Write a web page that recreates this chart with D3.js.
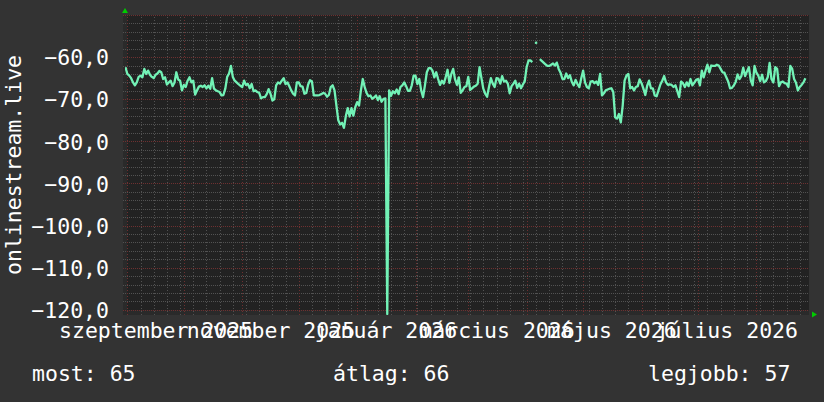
<!DOCTYPE html>
<html><head><meta charset="utf-8">
<script src="https://cdn.jsdelivr.net/npm/d3@7"></script>
<style>html,body{margin:0;padding:0;background:#333333;} svg{display:block}</style>
</head><body>
<svg id="c" width="824" height="402"></svg>
<script>
// ---- data (daily samples, null = missing) ----
const firstDay = "2025-08-31";
const values = [
-62.4,-64.0,-64.4,-65.0,-66.0,-66.7,-66.0,-64.7,-64.4,-64.8,
-62.8,-64.0,-63.2,-64.2,-64.7,-65.0,-64.2,-63.9,-63.3,-63.6,
-65.2,-64.8,-66.5,-66.0,-65.6,-66.9,-66.1,-63.6,-65.3,-65.6,
-67.9,-66.6,-67.1,-65.6,-64.8,-66.0,-65.6,-68.9,-67.9,-67.0,
-66.8,-67.1,-66.7,-67.4,-66.8,-67.5,-65.0,-67.5,-67.9,-68.1,
-68.3,-69.1,-69.0,-67.5,-64.7,-63.9,-62.1,-64.7,-65.6,-66.0,
-66.4,-66.8,-67.1,-65.6,-66.6,-66.4,-67.4,-66.4,-68.1,-67.9,
-68.3,-68.5,-69.8,-69.5,-69.5,-68.8,-67.6,-68.7,-70.3,-70.0,
-66.7,-66.0,-66.3,-65.6,-65.0,-66.4,-66.0,-66.9,-67.9,-68.7,
-69.1,
-66.0,-66.0,-66.9,-67.0,-68.7,-68.5,-66.5,-65.5,-65.8,-69.1,
-69.1,-69.1,-69.0,-68.8,-68.5,-68.7,-69.4,-69.0,-67.1,-66.7,
-67.9,-71.5,-75.0,-76.0,-75.6,-76.8,-74.0,-72.1,-74.1,-72.1,
-73.9,-71.9,-70.7,-71.5,-67.9,-65.2,-67.1,-68.5,-69.3,-69.1,
-69.9,-69.6,-69.1,-70.2,-69.3,-70.6,-69.9,-69.8,-121.0,-67.9,
-69.2,-68.1,-68.6,-67.7,-68.8,-67.1,-66.7,-66.0,-66.9,-68.0,
-68.0,-66.7,-64.4,-64.4,-66.4,-65.2,-67.9,-69.5,-66.7,-63.6,
-62.6,-62.6,-63.2,-64.8,-63.6,-65.2,-66.6,-65.6,-66.3,-64.8,
-63.0,-66.1,-64.0,-62.8,-65.3,-66.6,-64.8,-68.5,-67.9,-67.1,
-66.9,
-64.7,-67.8,-67.4,-67.0,-66.8,-66.3,-62.4,-65.0,-67.5,-68.7,
-69.4,-67.1,-65.0,-66.3,-67.1,-65.0,-65.1,-66.3,-64.5,-65.8,
-65.6,-66.3,-68.6,-66.9,-66.3,-65.6,-67.3,-66.3,-67.4,-66.5,
-65.7,-62.4,-60.8,-60.8,-61.2,null,-56.6,null,-60.5,-60.9,
-61.3,-61.7,-62.1,-62.1,-61.8,-61.5,-62.0,-61.3,-62.8,-63.7,
-65.2,-65.2,-63.9,-65.0,-64.3,-65.9,-66.7,-65.4,-66.4,-67.1,
-65.0,-63.2,-66.0,-67.1,-67.4,-65.8,-65.7,-66.2,-65.8,-66.6,
-64.0,-69.1,-68.6,-67.9,-67.7,-67.5,-67.4,-68.3,-74.3,-74.6,
-73.5,-75.5,-71.5,-65.6,-64.4,-64.0,-67.4,-67.1,-67.9,-67.1,
-66.9,
-65.3,-66.2,-67.5,-69.0,-66.8,-65.6,-67.4,-67.4,-69.1,-69.3,
-67.9,-66.5,-65.6,-64.5,-66.0,-66.6,-66.5,-66.6,-67.1,-66.7,
-68.1,-69.5,-65.8,-66.2,-67.1,-66.0,-66.9,-65.2,-66.7,-66.1,
-65.4,-65.2,-66.7,-63.2,-64.8,-63.2,-61.8,-63.6,-62.0,-62.1,
-62.1,-61.8,-62.0,-62.8,-63.6,-63.7,-64.8,-65.8,-67.4,-67.3,
-66.7,-65.9,-64.1,-65.2,-64.5,-62.5,-64.5,-63.4,-62.4,-65.5,
-66.7,-62.1,-63.7,-64.4,-65.7,-64.2,-66.0,-65.7,-64.8,-61.4,
-65.2,-66.0,-62.4,-62.8,-66.9,-66.0,-65.8,-66.2,-66.3,-67.1,
-62.1,-62.8,-65.2,-66.1,-67.9,-67.1,-66.6,-66.0,-65.0
];
const timeStart = "2025-08-30T18:00:00Z";
const timeEnd = "2026-08-28T22:00:00Z";
const yMin = -121, yMax = -50;
const yTicks = [-60, -70, -80, -90, -100, -110, -120];
const labelMonths = ["2025-09-01", "2025-11-01", "2026-01-01", "2026-03-01", "2026-05-01", "2026-07-01"];
const monthLabels = ["szeptember 2025", "november 2025", "január 2026", "március 2026", "május 2026", "július 2026"];
const yTitle = "onlinestream.live";
const legendLabels = ["most:", "átlag:", "legjobb:"];
const legendValues = [65, 66, 57];

// ---- layout ----
const L = 125, R = 809, T = 15, B = 314;
const FONT = "DejaVu Sans Mono";
const FS = 21.5;
const svg = d3.select("#c");
svg.append("rect").attr("width", 824).attr("height", 402).attr("fill", "#333333");

const day0 = new Date(firstDay + "T00:00:00Z");
const data = values.map((v, i) => ({ t: d3.utcDay.offset(day0, i), v }));

const x = d3.scaleUtc().domain([new Date(timeStart), new Date(timeEnd)]).range([L, R]);
const y = d3.scaleLinear().domain([yMin, yMax]).range([B, T]);

// canvas
svg.append("rect").attr("x", L - 2).attr("y", T).attr("width", R - L + 2).attr("height", B - T + 1).attr("fill", "#222222");
svg.append("rect").attr("x", L - 2).attr("y", T).attr("width", 4).attr("height", B - T + 1).attr("fill", "#2a2a2a");
svg.append("rect").attr("x", L - 2).attr("y", B - 4).attr("width", R - L + 2).attr("height", 5).attr("fill", "#2a2a2a");

// grid
const grid = svg.append("g").attr("shape-rendering", "crispEdges");
const minorH = d3.range(yMin + 1, yMax + 0.1, 2).filter(v => v % 10 !== 0);
const majorH = d3.range(-120, yMax + 0.1, 10);
const [d0, d1] = x.domain();
const months = d3.utcMonth.range(d0, d1);
const weeks = d3.utcMonday.range(d0, d1).filter(w => !months.some(m => +m === +w));
const minorColor = "#525252", majorColor = "#6e3030";

grid.append("g").attr("transform", `translate(${L - 2},0)`)
  .call(d3.axisLeft(y).tickValues(minorH).tickSize(-(R - L + 2)).tickFormat(""))
  .call(g => g.select(".domain").remove())
  .selectAll("line").attr("stroke", minorColor).attr("stroke-dasharray", "1,1");
grid.append("g").attr("transform", `translate(0,${B + 1})`)
  .call(d3.axisBottom(x).tickValues(weeks).tickSize(-(B + 1 - T)).tickFormat(""))
  .call(g => g.select(".domain").remove())
  .selectAll("line").attr("stroke", minorColor).attr("stroke-dasharray", "1,2");
grid.append("g").attr("transform", `translate(${L - 2},0)`)
  .call(d3.axisLeft(y).tickValues(majorH).tickSize(-(R - L + 2)).tickFormat(""))
  .call(g => g.select(".domain").remove())
  .selectAll("line").attr("stroke", majorColor).attr("stroke-dasharray", "1,1");
grid.append("g").attr("transform", `translate(0,${B + 1})`)
  .call(d3.axisBottom(x).tickValues(months).tickSize(-(B + 1 - T)).tickFormat(""))
  .call(g => g.select(".domain").remove())
  .selectAll("line").attr("stroke", majorColor).attr("stroke-dasharray", "1,2");

// data line
svg.append("clipPath").attr("id", "clip").append("rect")
  .attr("x", L).attr("y", T).attr("width", R - L).attr("height", B - T + 1);
const line = d3.line().defined(d => d.v != null).x(d => x(d.t)).y(d => y(d.v));
const lineColor = "#72f2b6";
svg.append("path").datum(data).attr("clip-path", "url(#clip)")
  .attr("d", line).attr("fill", "none").attr("stroke", lineColor)
  .attr("stroke-width", 2.3).attr("stroke-linejoin", "round");
const isolated = data.filter((d, i) => d.v != null &&
  (i === 0 || data[i - 1].v == null) && (i === data.length - 1 || data[i + 1].v == null));
svg.selectAll(".dot").data(isolated).enter().append("rect")
  .attr("x", d => x(d.t) - 1.2).attr("y", d => y(d.v) - 1.1).attr("width", 2.4).attr("height", 2.2)
  .attr("fill", lineColor);

// arrows
svg.append("path").attr("d", `M${L - 3},13 L${L + 3},13 L${L},8 Z`).attr("fill", "#00cc00");
svg.append("path").attr("d", `M${R + 3},${B - 2.5} L${R + 3},${B + 3.5} L${R + 8},${B + 0.5} Z`).attr("fill", "#00cc00");

// y labels
const loc = d3.formatLocale({ decimal: ",", thousands: " ", grouping: [3], currency: ["", ""] });
const fmt = loc.format(".1f");
const yAxis = svg.append("g").attr("transform", `translate(${L},0)`)
  .call(d3.axisLeft(y).tickValues(yTicks).tickSize(0).tickPadding(16).tickFormat(d => fmt(d)));
yAxis.select(".domain").remove();
yAxis.selectAll("text").attr("font-family", FONT).attr("font-size", FS).attr("fill", "#ffffff").attr("dy", "0.36em");

// x labels
const labelDates = labelMonths.map(s => d3.utcDay.offset(new Date(s + "T00:00:00Z"), 15));
const xAxis = svg.append("g")
  .call(d3.axisBottom(x).tickValues(labelDates).tickSize(0).tickFormat((d, i) => monthLabels[i]));
xAxis.select(".domain").remove();
xAxis.selectAll("text").attr("font-family", FONT).attr("font-size", FS).attr("fill", "#ffffff")
  .attr("y", 337.5).attr("dy", 0);

// y title
svg.append("text").attr("transform", "translate(21,165) rotate(-90)").attr("text-anchor", "middle")
  .attr("font-family", FONT).attr("font-size", FS).attr("fill", "#ffffff").text(yTitle);

// legend
const legendX = [32, 333, 648];
svg.selectAll(".leg").data(legendLabels).enter().append("text")
  .attr("x", (d, i) => legendX[i]).attr("y", 381)
  .attr("font-family", FONT).attr("font-size", FS).attr("fill", "#ffffff")
  .text((d, i) => d + " " + legendValues[i]);
</script>
</body></html>
